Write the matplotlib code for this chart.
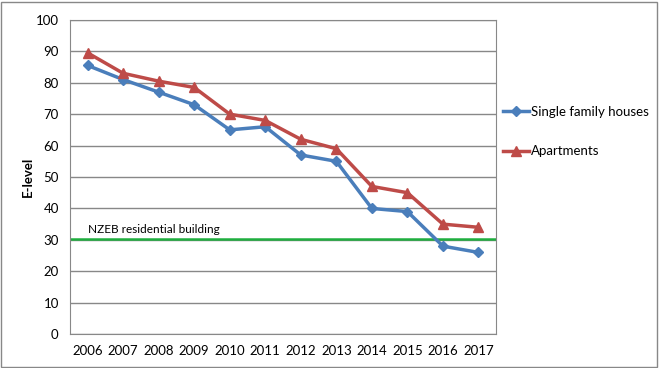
import matplotlib.pyplot as plt
import numpy as np

years = ["2006", "2007", "2008", "2009", "2010", "2011",
         "2012", "2013", "2014", "2015", "2016", "2017"]
single_family = [85.5, 81, 77, 73, 65, 66, 57, 55, 40, 39, 28, 26]
apartments = [89.5, 83, 80.5, 78.5, 70, 68, 62, 59, 47, 45, 35, 34]
nzeb_level = 30.2

plt.rcParams["font.family"] = ["Lato", "DejaVu Sans"]

fig = plt.figure(figsize=(6.59, 3.68), dpi=100)
ax = fig.add_axes([0.106, 0.092, 0.647, 0.854])

x = np.arange(len(years))
ax.plot(x, single_family, "-D", color="#4a7ebb", linewidth=2.5, markersize=5,
        label="Single family houses", zorder=3)
ax.plot(x, apartments, "-^", color="#be4b48", linewidth=2.5, markersize=7,
        label="Apartments", zorder=3)
ax.axhline(nzeb_level, color="#1fae3f", linewidth=1.8, zorder=2)
ax.text(0, nzeb_level + 1.2, "NZEB residential building", fontsize=8.5,
        ha="left", va="bottom")

ax.set_xlim(-0.5, len(years) - 0.5)
ax.set_ylim(0, 100)
ax.set_yticks(range(0, 101, 10))
ax.set_xticks(x)
ax.set_xticklabels(years)
ax.tick_params(axis="x", length=0, labelsize=9.5, pad=8)
ax.tick_params(axis="y", length=0, labelsize=9.5, pad=8)
ax.grid(axis="y", color="#888888", linewidth=1)
ax.set_axisbelow(True)
for s in ax.spines.values():
    s.set_color("#888888")
ax.set_ylabel("E-level", fontweight="bold", fontsize=9.5, labelpad=1)

fig.legend(loc="upper left", bbox_to_anchor=(0.745, 0.745), frameon=False,
           fontsize=9.5, handlelength=2.0, handletextpad=0.1, labelspacing=2.1)

border = plt.Rectangle((0.002, 0.003), 0.995, 0.992, transform=fig.transFigure,
                       fill=False, edgecolor="#888888", linewidth=1)
fig.patches.append(border)

fig.savefig("out.png", dpi=100)
